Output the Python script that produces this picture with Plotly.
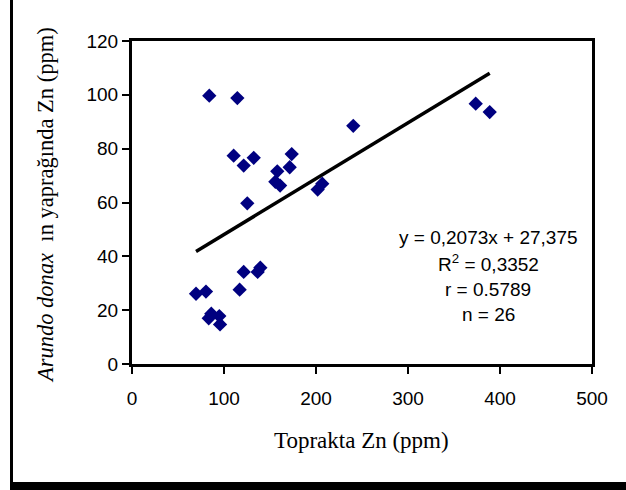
import plotly.graph_objects as go

soil_zn = [84, 114.5, 240.5, 110.5, 132.3, 121.4, 173.6, 157.9, 171.4, 155.8, 161, 201.8, 206.8,
           125.3, 373.6, 388.8, 69.6, 80.4, 117, 121.4, 136.6, 139.5, 86.2, 83.4, 94.9, 95.7]
leaf_zn = [99.7, 98.8, 88.5, 77.4, 76.6, 73.7, 78.0, 71.6, 73.1, 67.7, 66.3, 64.8, 67.0,
           59.7, 96.7, 93.6, 26.1, 26.9, 27.6, 34.2, 34.2, 35.8, 18.7, 17.0, 17.8, 14.7]

slope = 0.2073
intercept = 27.375
stats_lines = ["y = 0,2073x + 27,375", "R<sup>2</sup> = 0,3352", "r = 0.5789", "n = 26"]
x_ticks = [0, 100, 200, 300, 400, 500]
y_ticks = [0, 20, 40, 60, 80, 100, 120]

x_min, x_max = min(soil_zn), max(soil_zn)
trend_x = [x_min, x_max]
trend_y = [slope * v + intercept for v in trend_x]

fig = go.Figure()
fig.add_trace(go.Scatter(x=trend_x, y=trend_y, mode="lines",
                         line=dict(color="black", width=3.5), hoverinfo="skip"))
fig.add_trace(go.Scatter(x=soil_zn, y=leaf_zn, mode="markers",
                         marker=dict(symbol="diamond", size=11, color="#000080",
                                     line=dict(width=0))))

W, H = 626, 490
L, R, T, B = 132, 34, 41, 126
pw, ph = W - L - R, H - T - B

def px(xp):
    return (xp - L) / pw

def py(yp):
    return (H - B - yp) / ph

ann = []
for i, (txt, yp) in enumerate(zip(stats_lines, [238, 263, 289, 314])):
    ann.append(dict(x=px(488), y=py(yp), xref="paper", yref="paper", text=txt,
                    showarrow=False, xanchor="center", yanchor="middle",
                    font=dict(family="Liberation Sans, Arial", size=19, color="black")))
ann.append(dict(x=px(361), y=py(440), xref="paper", yref="paper", text="Toprakta Zn (ppm)",
                showarrow=False, xanchor="center", yanchor="middle",
                font=dict(family="Liberation Serif, Times New Roman", size=23, color="black")))
ann.append(dict(x=px(45), y=py(205), xref="paper", yref="paper",
                text="<i>Arundo donax</i>  ın yaprağında Zn (ppm)", textangle=-90,
                showarrow=False, xanchor="center", yanchor="middle",
                font=dict(family="Liberation Serif, Times New Roman", size=22.5, color="black")))

shapes = [
    dict(type="line", xref="paper", yref="paper", x0=px(11.5), x1=px(11.5), y0=py(-5), y1=py(486),
         line=dict(color="black", width=3)),
    dict(type="rect", xref="paper", yref="paper", x0=px(10), x1=px(640), y0=py(482), y1=py(495),
         fillcolor="black", line=dict(width=0)),
]

fig.update_layout(
    width=W, height=H, margin=dict(l=L, r=R, t=T, b=B),
    paper_bgcolor="white", plot_bgcolor="white", showlegend=False,
    annotations=ann, shapes=shapes,
    xaxis=dict(range=[0, 500], tickvals=x_ticks, ticks="outside", ticklen=7, tickwidth=2,
               tickcolor="black", showline=True, linecolor="black", linewidth=3, mirror=True,
               showgrid=False, zeroline=False, ticklabelstandoff=8,
               tickfont=dict(family="Liberation Sans, Arial", size=19, color="black")),
    yaxis=dict(range=[0, 120], tickvals=y_ticks, ticks="outside", ticklen=7, tickwidth=2,
               tickcolor="black", showline=True, linecolor="black", linewidth=3, mirror=True,
               showgrid=False, zeroline=False,
               tickfont=dict(family="Liberation Sans, Arial", size=19, color="black")),
)

fig.write_html("out.html")
